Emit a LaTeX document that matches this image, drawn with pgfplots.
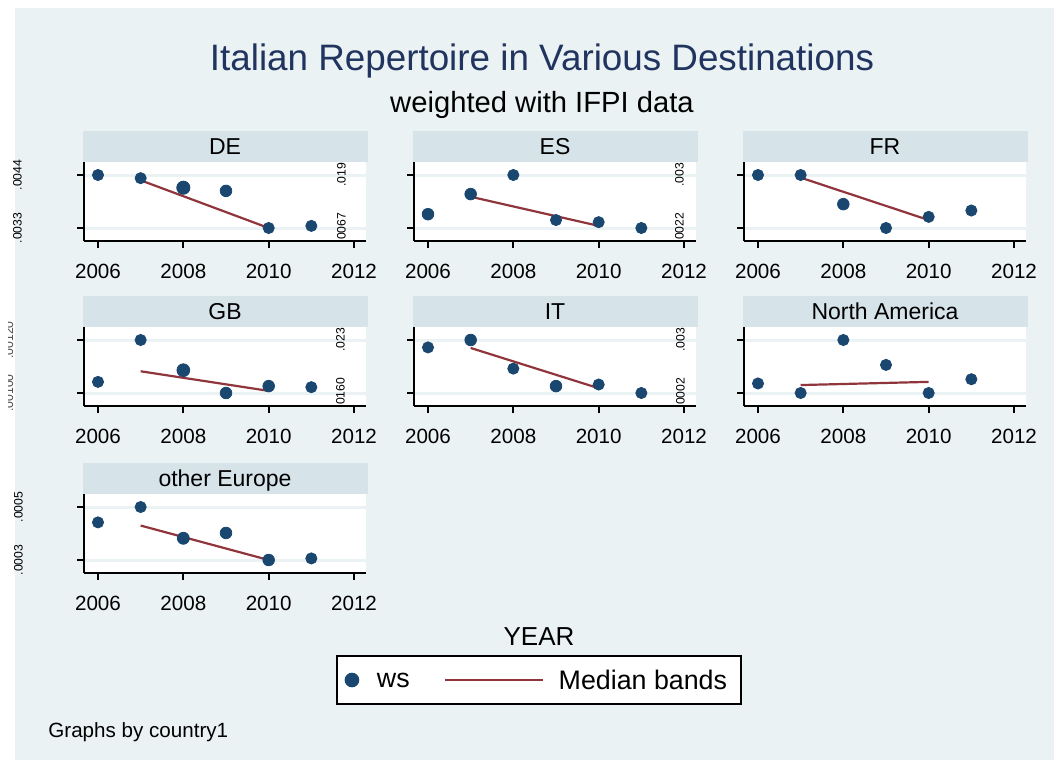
\documentclass[border=0pt]{standalone}
\usepackage{pgfplots}
\pgfplotsset{compat=1.18}
\usepackage{fontspec}
\setmainfont{Liberation Sans}
\definecolor{navyS}{RGB}{26,71,111}
\definecolor{maroonS}{RGB}{144,53,59}
\definecolor{bgS}{RGB}{234,242,243}
\definecolor{stripS}{RGB}{214,227,233}
\definecolor{titleS}{RGB}{33,52,95}

\pgfplotsset{
  ylx/.initial=0pt,
  panel/.style={
    scale only axis, width=141pt, height=39.5pt,
    anchor=south west,
    xmin=2005.672, xmax=2012.281, ymin=-0.2453, ymax=1.2453,
    axis x line*=bottom, axis y line*=left,
    axis line style={-, line width=1pt, black},
    xtick={2006,2008,2010,2012}, ytick={0,1},
    tick align=outside, major tick length=3.5pt,
    tick style={black, line width=1pt},
    xticklabel style={font=\fontsize{10.3}{12}\selectfont,
      /pgf/number format/1000 sep={}, /pgf/number format/assume math mode=true,
      anchor=north, yshift=-4.5pt},
    yticklabel style={font=\fontsize{6.1}{7}\selectfont, xshift=-34.5pt,
      xshift={\pgfkeysvalueof{/pgfplots/ylx}}, rotate=90, anchor=center},
    ymajorgrids, y grid style={line width=1.5pt, color=bgS},
    axis background/.style={fill=white},
    every axis title/.style={at={(0.5,1)}, anchor=south, fill=stripS,
      minimum width=142.5pt, minimum height=15.5pt, inner sep=0pt,
      text height=8.2pt, text depth=0pt, font=\fontsize{11.5}{13}\selectfont},
  },
  ws/.style={scatter, only marks, mark=*, draw=navyS, fill=navyS, point meta=y,
    visualization depends on={\thisrow{s}\as\ms},
    scatter/use mapped color={draw=navyS, fill=navyS},
    scatter/@pre marker code/.append style={/tikz/mark size=\ms}},
  med/.style={maroonS, line width=1.1pt, no markers},
}

\begin{document}
\begin{tikzpicture}
\fill[white] (0pt,0pt) rectangle (530.5pt,-383pt);
\fill[bgS] (7.5pt,-4pt) rectangle (527pt,-380pt);
\useasboundingbox (0pt,0pt) rectangle (530.5pt,-383pt);

\node[anchor=base, text=titleS, font=\fontsize{18.4}{22}\selectfont] at (271pt,-35pt) {Italian Repertoire in Various Destinations};
\node[anchor=base, font=\fontsize{14.6}{17}\selectfont] at (271pt,-56pt) {weighted with IFPI data};

% Row 1
\begin{axis}[panel, ylx=4.75pt, at={(42pt,-120.5pt)}, title={DE}, yticklabels={.0033,.0044}]
\addplot[ws] table[row sep=\\] {x y s\\ 2006 1.00 2.8\\ 2007 0.94 2.8\\ 2008 0.76 3.3\\ 2009 0.70 2.9\\ 2010 0.00 2.8\\ 2011 0.04 2.8\\};
\addplot[med] table[row sep=\\] {x y\\ 2007 0.90\\ 2010 0.00\\};
\end{axis}
\begin{axis}[panel, ylx=1.75pt, at={(207pt,-120.5pt)}, title={ES}, yticklabels={.0067,.019}]
\addplot[ws] table[row sep=\\] {x y s\\ 2006 0.26 2.9\\ 2007 0.64 2.9\\ 2008 1.00 2.8\\ 2009 0.15 2.8\\ 2010 0.11 2.8\\ 2011 0.00 2.8\\};
\addplot[med] table[row sep=\\] {x y\\ 2007 0.59\\ 2010 0.04\\};
\end{axis}
\begin{axis}[panel, ylx=5.75pt, at={(372pt,-120.5pt)}, title={FR}, yticklabels={.0022,.003}]
\addplot[ws] table[row sep=\\] {x y s\\ 2006 1.00 2.8\\ 2007 1.00 2.8\\ 2008 0.45 2.9\\ 2009 0.00 2.8\\ 2010 0.21 2.8\\ 2011 0.33 2.8\\};
\addplot[med] table[row sep=\\] {x y\\ 2007 0.95\\ 2010 0.15\\};
\end{axis}

% Row 2
\begin{axis}[panel, at={(42pt,-203pt)}, title={GB}, yticklabels={,}]
\addplot[ws] table[row sep=\\] {x y s\\ 2006 0.21 2.8\\ 2007 1.00 2.8\\ 2008 0.43 3.2\\ 2009 0.00 2.9\\ 2010 0.13 2.9\\ 2011 0.11 2.8\\};
\addplot[med] table[row sep=\\] {x y\\ 2007 0.41\\ 2010 0.04\\};
\end{axis}
\begin{axis}[panel, ylx=1.25pt, at={(207pt,-203pt)}, title={IT}, yticklabels={.0160,.023}]
\addplot[ws] table[row sep=\\] {x y s\\ 2006 0.86 2.8\\ 2007 1.00 2.9\\ 2008 0.46 2.8\\ 2009 0.13 2.9\\ 2010 0.16 2.8\\ 2011 0.00 2.8\\};
\addplot[med] table[row sep=\\] {x y\\ 2007 0.85\\ 2010 0.09\\};
\end{axis}
\begin{axis}[panel, ylx=6.25pt, at={(372pt,-203pt)}, title={North America}, yticklabels={.0002,.003}]
\addplot[ws] table[row sep=\\] {x y s\\ 2006 0.18 2.8\\ 2007 0.00 2.8\\ 2008 1.00 2.8\\ 2009 0.53 2.8\\ 2010 0.00 2.8\\ 2011 0.26 2.8\\};
\addplot[med] table[row sep=\\] {x y\\ 2007 0.15\\ 2010 0.21\\};
\end{axis}

% Row 3
\begin{axis}[panel, ylx=5.25pt, at={(42pt,-286.5pt)}, title={other Europe}, yticklabels={.0003,.0005},
  legend columns=2,
  legend style={at={(1.6135,-1.3544)}, anchor=center, draw=black, line width=0.9pt, fill=white,
    inner xsep=0pt, inner ysep=7pt, column sep=0pt,
    nodes={inner sep=0pt, text depth=0pt},
    font=\fontsize{13.4}{16}\selectfont},
  legend cell align=left]
\addplot[ws, forget plot] table[row sep=\\] {x y s\\ 2006 0.71 2.8\\ 2007 1.00 2.8\\ 2008 0.41 3.0\\ 2009 0.51 2.9\\ 2010 0.00 2.9\\ 2011 0.03 2.8\\};
\addplot[med, forget plot] table[row sep=\\] {x y\\ 2007 0.65\\ 2010 0.00\\};
\addlegendimage{legend image code/.code={\path[draw=none] (0pt,0pt) -- (17pt,0pt); \fill[navyS] (7.5pt,0pt) circle (3.2pt);}}
\addlegendentry{\kern3pt ws}
\addlegendimage{legend image code/.code={\path[draw=none] (0pt,0pt) -- (74.5pt,0pt); \draw[maroonS, line width=1.1pt] (17.5pt,0pt) -- (66.5pt,0pt);}}
\addlegendentry{Median bands\kern7pt}
\end{axis}

% garbled GB labels
\begin{scope}
\clip (4pt,-150pt) rectangle (7.5pt,-210pt);
\node[rotate=90, font=\fontsize{6.1}{7}\selectfont, text=black!70] at (4.5pt,-170pt) {.00120};
\node[rotate=90, font=\fontsize{6.1}{7}\selectfont, text=black!70] at (4.5pt,-196.5pt) {.00100};
\end{scope}

\node[anchor=base, font=\fontsize{13}{15}\selectfont] at (269.5pt,-322.5pt) {YEAR};
\node[anchor=base west, inner sep=0pt, font=\fontsize{10.3}{12}\selectfont] at (24pt,-368.5pt) {Graphs by country1};
\end{tikzpicture}
\end{document}
